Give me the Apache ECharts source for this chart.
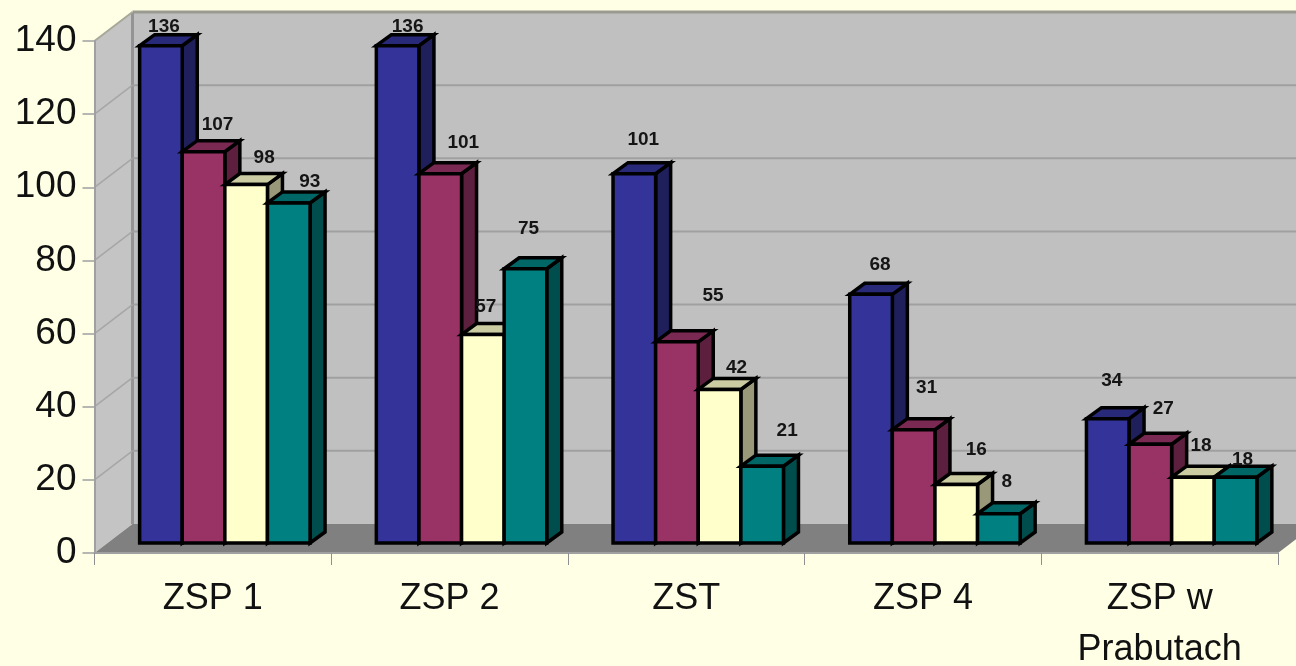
<!DOCTYPE html>
<html>
<head>
<meta charset="utf-8">
<title>ZSP</title>
<script src="https://cdn.jsdelivr.net/npm/echarts@6/dist/echarts.min.js"></script>
<style>
  html, body { margin: 0; padding: 0; background: #ffffe6; }
  #chart { width: 1296px; height: 666px; }
</style>
</head>
<body>
<div id="chart"></div>
<script>
var categories = ['ZSP 1', 'ZSP 2', 'ZST', 'ZSP 4', 'ZSP w\nPrabutach'];
var yTicks = [0, 20, 40, 60, 80, 100, 120, 140];
var seriesA = [136, 136, 101, 68, 34];
var seriesB = [107, 101, 55, 31, 27];
var seriesC = [98, 57, 42, 16, 18];
var seriesD = [93, 75, 21, 8, 18];

// hand placed data labels, [right of bar centre, above bar top] in px
var labelNudgeA = [[3, 19], [10, 19], [9, 34], [9, 30], [4, 38]];
var labelNudgeB = [[14, 27], [23, 31], [36, 46], [13, 42], [13, 35]];
var labelNudgeC = [[18, 27], [3, 28], [17, 22], [20, 35], [8, 31]];
var labelNudgeD = [[21, 21], [3, 40], [25, 35], [8, 32], [7, 17]];

var WALL_DX = 38, WALL_DY = -29;  // depth of the chart box
var BAR_DX = 12, BAR_DY = -10;    // bars stand inside the box
var DEPTH_X = 15, DEPTH_Y = -11;  // depth of a bar
var BAR_BAND = 0.18;              // bar width as share of category
var FONT = '"Liberation Sans", Arial, sans-serif';

var colors = [
  { front: '#333399', top: '#29297a', side: '#1f1f5c' },
  { front: '#993366', top: '#7a2952', side: '#5c1f3d' },
  { front: '#ffffcc', top: '#cccca3', side: '#99997a' },
  { front: '#008080', top: '#006666', side: '#004d4d' }
];

function poly(points, fill, stroke, width) {
  return {
    type: 'polygon',
    shape: { points: points },
    style: { fill: fill, stroke: stroke, lineWidth: width, lineJoin: 'miter' }
  };
}

function line(x1, y1, x2, y2, stroke, width) {
  return {
    type: 'line',
    shape: { x1: x1, y1: y1, x2: x2, y2: y2 },
    style: { stroke: stroke, lineWidth: width }
  };
}

function renderWalls(params, api) {
  var box = params.coordSys;
  var l = box.x, r = box.x + box.width, t = box.y, b = box.y + box.height;
  var y = api.coord([0, api.value(1)])[1];
  var children = [];
  if (params.dataIndex === 0) {
    children.push(poly([[l + WALL_DX, t + WALL_DY], [r + WALL_DX, t + WALL_DY], [r + WALL_DX, b + WALL_DY], [l + WALL_DX, b + WALL_DY]], '#c0c0c0', null, 0));
    children.push(poly([[l, t], [l + WALL_DX, t + WALL_DY], [l + WALL_DX, b + WALL_DY], [l, b]], '#c4c4c4', null, 0));
    children.push(poly([[l, b], [l + WALL_DX, b + WALL_DY], [r + WALL_DX, b + WALL_DY], [r, b]], '#808080', null, 0));
    children.push(line(l + WALL_DX, t + WALL_DY, r + WALL_DX, t + WALL_DY, '#9a9a90', 3));
    children.push(line(l + WALL_DX, t + WALL_DY, l + WALL_DX, b + WALL_DY, '#949494', 3));
    children.push(line(l, t, l + WALL_DX, t + WALL_DY, '#a8a89a', 2));
  } else if (api.value(1) < 140) {
    children.push(line(l, y, l + WALL_DX, y + WALL_DY, '#a6a6a6', 1.5));
    children.push(line(l + WALL_DX, y + WALL_DY, r + WALL_DX, y + WALL_DY, '#a0a0a0', 2));
  }
  return { type: 'group', children: children };
}

function barBox(params, api, index) {
  var base = api.coord([api.value(0), 0]);
  var top = api.coord([api.value(0), api.value(1)]);
  var w = api.size([1, 0])[0] * BAR_BAND;
  var x = base[0] + BAR_DX - 2 * w + index * w;
  return { x: x, w: w, bottom: base[1] + BAR_DY, top: top[1] + BAR_DY };
}

function barRenderer(index) {
  return function (params, api) {
    var c = colors[index];
    var b = barBox(params, api, index);
    var x2 = b.x + b.w;
    return {
      type: 'group',
      children: [
        poly([[x2, b.top], [x2 + DEPTH_X, b.top + DEPTH_Y], [x2 + DEPTH_X, b.bottom + DEPTH_Y], [x2, b.bottom]], c.side, '#000', 3.5),
        poly([[b.x, b.top], [b.x + DEPTH_X, b.top + DEPTH_Y], [x2 + DEPTH_X, b.top + DEPTH_Y], [x2, b.top]], c.top, '#000', 3.5),
        poly([[b.x, b.top], [x2, b.top], [x2, b.bottom], [b.x, b.bottom]], c.front, '#000', 3.5)
      ]
    };
  };
}

function labelRenderer(index, nudge) {
  return function (params, api) {
    var b = barBox(params, api, index);
    var n = nudge[params.dataIndex];
    return {
      type: 'text',
      style: {
        text: String(api.value(1)),
        x: b.x + b.w / 2 + n[0],
        y: b.top - n[1],
        align: 'center',
        verticalAlign: 'middle',
        fontFamily: FONT,
        fontSize: 19,
        fontWeight: 'bold',
        fill: '#151515'
      }
    };
  };
}

function pairs(values) {
  return values.map(function (v, i) { return [i, v]; });
}

var valueSets = [seriesA, seriesB, seriesC, seriesD];
var nudgeSets = [labelNudgeA, labelNudgeB, labelNudgeC, labelNudgeD];

var series = [{
  type: 'custom',
  renderItem: renderWalls,
  data: yTicks.map(function (v) { return [0, v]; }),
  encode: { x: 0, y: 1 },
  z: 1,
  silent: true
}];
valueSets.forEach(function (values, i) {
  series.push({ type: 'custom', renderItem: barRenderer(i), data: pairs(values), encode: { x: 0, y: 1 }, z: 2 + i, silent: true });
});
valueSets.forEach(function (values, i) {
  series.push({ type: 'custom', renderItem: labelRenderer(i, nudgeSets[i]), data: pairs(values), encode: { x: 0, y: 1 }, z: 8, silent: true });
});

var chart = echarts.init(document.getElementById('chart'));
chart.setOption({
  animation: false,
  backgroundColor: '#ffffe6',
  grid: { left: 94.5, right: 18, top: 41, bottom: 113, containLabel: false, outerBoundsMode: 'none' },
  xAxis: {
    type: 'category',
    data: categories,
    boundaryGap: true,
    z: 9,
    axisLine: { lineStyle: { color: '#a0a0a0', width: 2 } },
    axisTick: { show: true, alignWithLabel: false, length: 12, lineStyle: { color: '#909090', width: 1 } },
    axisLabel: { color: '#111', fontFamily: FONT, fontSize: 36, lineHeight: 51, margin: 21, interval: 0 }
  },
  yAxis: {
    type: 'value',
    min: 0,
    max: 140,
    interval: 20,
    z: 9,
    splitLine: { show: false },
    axisLine: { show: true, lineStyle: { color: '#a0a0a0', width: 2 } },
    axisTick: { show: true, length: 12, lineStyle: { color: '#a0a0a0', width: 1.5 } },
    axisLabel: { color: '#111', fontFamily: FONT, fontSize: 37, margin: 18 }
  },
  series: series
});
</script>
</body>
</html>
